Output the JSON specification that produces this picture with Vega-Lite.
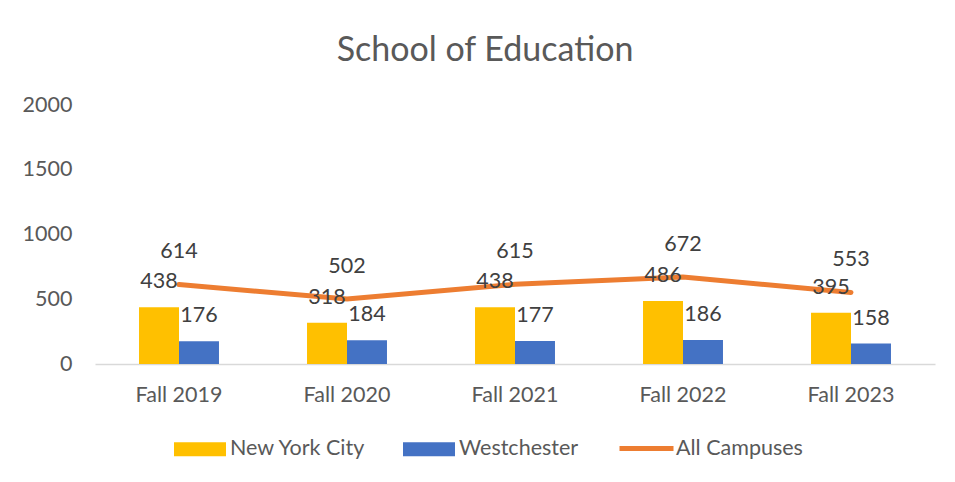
{
  "$schema": "https://vega.github.io/schema/vega-lite/v6.json",
  "width": 840,
  "height": 259,
  "autosize": {"type": "none"},
  "padding": {"top": 105, "left": 95, "right": 20, "bottom": 118},
  "background": "white",
  "title": {
    "text": "School of Education",
    "font": "Lato",
    "fontSize": 34,
    "fontWeight": "normal",
    "color": "#595959",
    "anchor": "middle",
    "dx": -30,
    "offset": 26
  },
  "config": {
    "view": {"stroke": null},
    "font": "Lato"
  },
  "data": {
    "values": [
      {"year": "Fall 2019", "campus": "New York City", "value": 438},
      {"year": "Fall 2019", "campus": "Westchester", "value": 176},
      {"year": "Fall 2019", "campus": "All Campuses", "value": 614},
      {"year": "Fall 2020", "campus": "New York City", "value": 318},
      {"year": "Fall 2020", "campus": "Westchester", "value": 184},
      {"year": "Fall 2020", "campus": "All Campuses", "value": 502},
      {"year": "Fall 2021", "campus": "New York City", "value": 438},
      {"year": "Fall 2021", "campus": "Westchester", "value": 177},
      {"year": "Fall 2021", "campus": "All Campuses", "value": 615},
      {"year": "Fall 2022", "campus": "New York City", "value": 486},
      {"year": "Fall 2022", "campus": "Westchester", "value": 186},
      {"year": "Fall 2022", "campus": "All Campuses", "value": 672},
      {"year": "Fall 2023", "campus": "New York City", "value": 395},
      {"year": "Fall 2023", "campus": "Westchester", "value": 158},
      {"year": "Fall 2023", "campus": "All Campuses", "value": 553}
    ]
  },
  "encoding": {
    "x": {
      "field": "year",
      "type": "nominal",
      "scale": {"paddingInner": 0.524, "paddingOuter": 0.262},
      "axis": {
        "title": null,
        "labelAngle": 0,
        "labelFont": "Lato",
        "labelFontSize": 21.5,
        "labelColor": "#595959",
        "labelPadding": 20,
        "ticks": false,
        "domainColor": "#D9D9D9",
        "domainWidth": 1.5
      }
    },
    "y": {
      "field": "value",
      "type": "quantitative",
      "scale": {"domain": [0, 2000]},
      "axis": {
        "title": null,
        "values": [0, 500, 1000, 1500, 2000],
        "format": "d",
        "labelFont": "Lato",
        "labelFontSize": 21.5,
        "labelColor": "#595959",
        "labelPadding": 23,
        "ticks": false,
        "domain": false,
        "grid": false
      }
    }
  },
  "layer": [
    {
      "transform": [{"filter": "datum.campus !== 'All Campuses'"}],
      "mark": {"type": "bar"},
      "encoding": {
        "xOffset": {"field": "campus", "type": "nominal", "scale": {"paddingInner": 0, "paddingOuter": 0}},
        "fill": {
          "field": "campus",
          "type": "nominal",
          "scale": {"domain": ["New York City", "Westchester"], "range": ["#FFC000", "#4472C4"]},
          "legend": {
            "title": null,
            "orient": "none",
            "direction": "horizontal",
            "legendX": 79,
            "legendY": 318,
            "padding": 0,
            "symbolType": "M-1,-0.27H1V0.27H-1Z",
            "symbolSize": 2704,
            "symbolStrokeWidth": 0,
            "symbolOpacity": 1,
            "labelFont": "Lato",
            "labelFontSize": 21.5,
            "labelColor": "#595959",
            "labelOffset": 4,
            "columnPadding": 37
          }
        }
      }
    },
    {
      "transform": [{"filter": "datum.campus === 'All Campuses'"}],
      "mark": {"type": "line", "strokeWidth": 5, "strokeCap": "round"},
      "encoding": {
        "stroke": {
          "field": "campus",
          "type": "nominal",
          "scale": {"domain": ["All Campuses"], "range": ["#ED7D31"]},
          "legend": {
            "title": null,
            "orient": "none",
            "direction": "horizontal",
            "legendX": 522,
            "legendY": 314,
            "padding": 0,
            "symbolType": "stroke",
            "symbolSize": 2916,
            "symbolStrokeWidth": 5,
            "labelFont": "Lato",
            "labelFontSize": 21.5,
            "labelColor": "#595959",
            "labelOffset": 0
          }
        }
      }
    },
    {
      "transform": [{"filter": "datum.campus !== 'All Campuses'"}],
      "mark": {"type": "text", "font": "Lato", "fontSize": 21.5, "color": "#404040", "baseline": "middle", "dy": -25},
      "encoding": {
        "xOffset": {"field": "campus", "type": "nominal"},
        "text": {"field": "value", "type": "quantitative"}
      }
    },
    {
      "transform": [{"filter": "datum.campus === 'All Campuses'"}],
      "mark": {"type": "text", "font": "Lato", "fontSize": 21.5, "color": "#404040", "baseline": "middle", "dy": -32},
      "encoding": {
        "text": {"field": "value", "type": "quantitative"}
      }
    }
  ]
}
